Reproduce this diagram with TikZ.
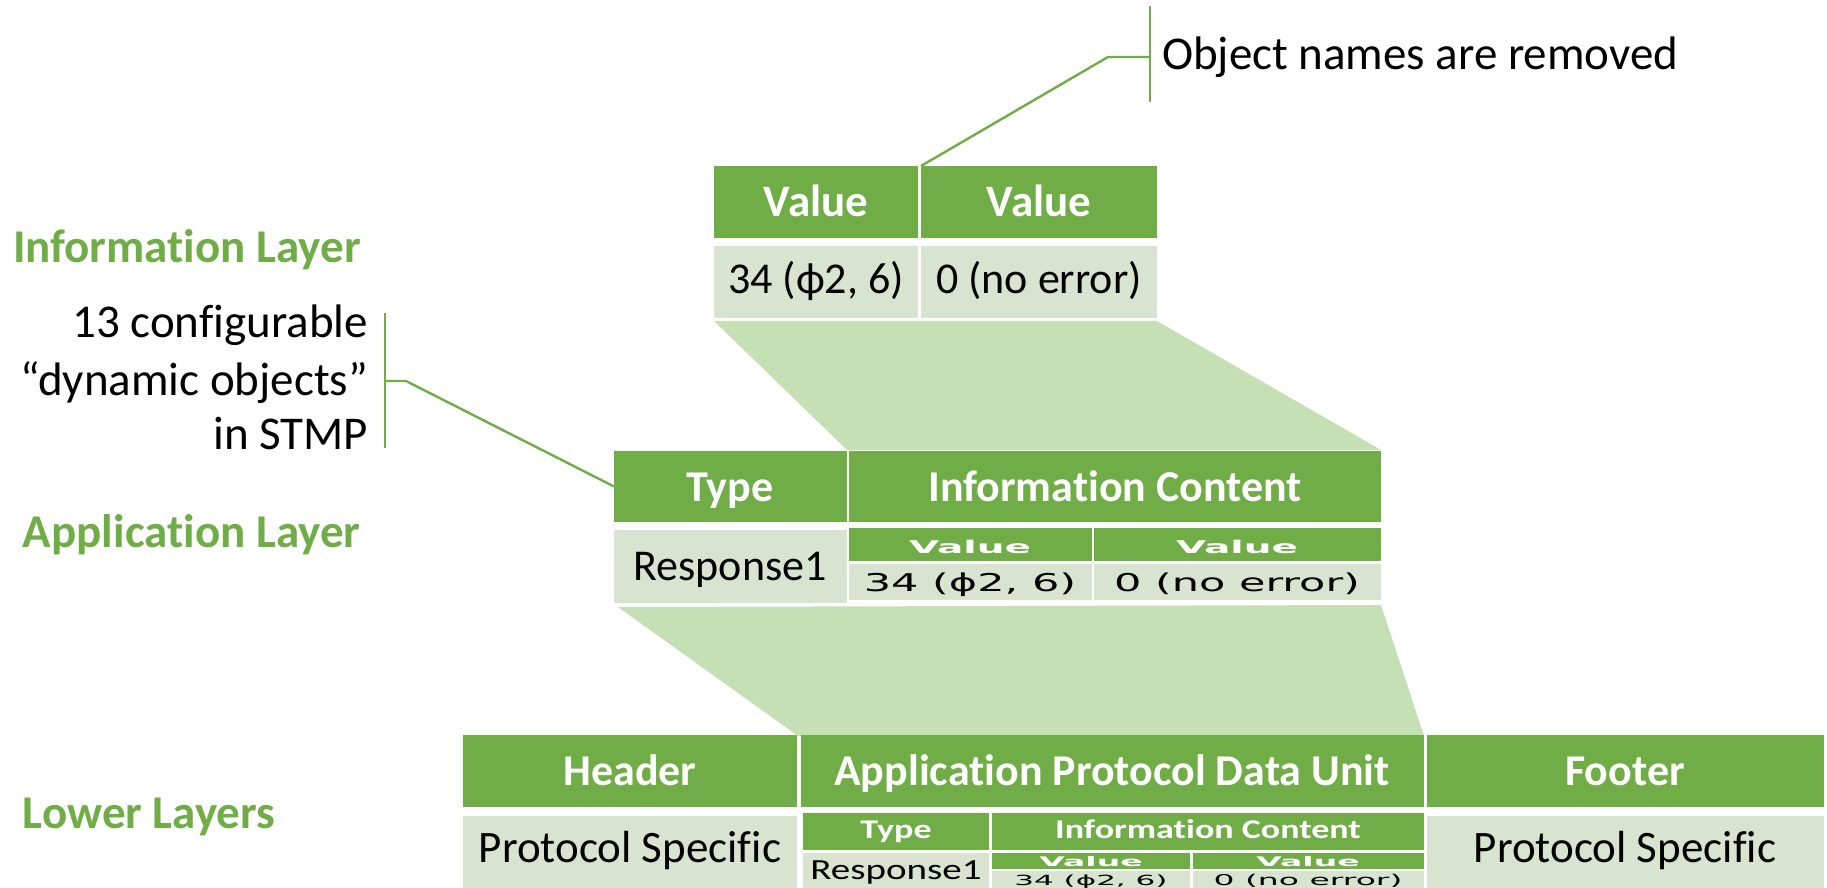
\documentclass[tikz,border=0pt]{standalone}
\usepackage{fontspec}
\usepackage{graphicx}
\setmainfont{Carlito}[Ligatures=NoCommon]
\newfontfamily\verd{DejaVu Sans}
\usetikzlibrary{fit}

\definecolor{accent}{HTML}{70AD47}
\definecolor{bodycell}{HTML}{D8E3D0}
\definecolor{funnel}{HTML}{C5E0B4}

% font size in picture units (1 unit = 1pt)
\newcommand\fsz[1]{\fontsize{#1}{#1}\selectfont}
% flattened Verdana-like text: vertical factor, size, text
\newcommand\squashv[3]{\scalebox{1}[#1]{\verd\fsz{#2}#3}}
% flattened Calibri-like text
\newcommand\squashc[3]{\scalebox{1}[#1]{\fsz{#2}#3}}

\tikzset{
  hcell/.style={fill=accent, draw=none, inner sep=0pt, outer sep=0pt},
  bcell/.style={fill=bodycell, draw=none, inner sep=0pt, outer sep=0pt},
  txt/.style={inner sep=0pt, outer sep=0pt, anchor=base},
  htxt/.style={txt, text=white, font=\bfseries},
  layer/.style={inner sep=0pt, outer sep=0pt, anchor=base west, text=accent, font=\fsz{47}\bfseries},
  note/.style={inner sep=0pt, outer sep=0pt, font=\fsz{47}},
  callout/.style={draw=accent, line width=2.4pt},
}

\begin{document}
\begin{tikzpicture}[x=1pt, y=-1pt]
\fill[white] (0,0) rectangle (1827,888);
\useasboundingbox (0,0) rectangle (1827,888);

% funnels between the layers
\fill[funnel] (714,321) -- (1157,321) -- (1381,450) -- (847,450) -- cycle;
\fill[funnel] (618,607) -- (1381,605) -- (1424,736) -- (798,736) -- cycle;

% ---------- information layer table ----------
\node[hcell, fit={(714,166) (918,238)}] (iH1) {};
\node[hcell, fit={(921,166) (1157,238)}] (iH2) {};
\node[bcell, fit={(714,246) (918,318)}] (iD1) {};
\node[bcell, fit={(921,246) (1157,318)}] (iD2) {};
\node[htxt, font=\fsz{45}\bfseries] (iH1t) at (816,216) {Value};
\node[htxt, font=\fsz{45}\bfseries] (iH2t) at (1039,216) {Value};
\node[txt, font=\fsz{44}] (iD1t) at (816,293) {34 (ϕ2, 6)};
\node[txt, font=\fsz{44}] (iD2t) at (1039,293) {0 (no error)};

% ---------- application layer table ----------
\node[hcell, fit={(614,451) (847,522)}] (aType) {};
\node[hcell, fit={(849,451) (1381,522)}] (aInfo) {};
\node[bcell, fit={(614,530) (847,603)}] (aResp) {};
\node[hcell, fit={(849,528) (1092,561)}] (aV1) {};
\node[hcell, fit={(1094,528) (1381,561)}] (aV2) {};
\node[bcell, fit={(849,564) (1092,600)}] (aD1) {};
\node[bcell, fit={(1094,564) (1381,600)}] (aD2) {};
\node[htxt, font=\fsz{44}\bfseries] (aTypet) at (730,501) {Type};
\node[htxt, font=\fsz{44}\bfseries] (aInfot) at (1115,501) {Information Content};
\node[txt, font=\fsz{44}] (aRespt) at (730,580) {Response1};
\node[txt, text=white] (aV1t) at (970,553) {\squashv{0.45}{39}{\bfseries Value}};
\node[txt, text=white] (aV2t) at (1237,553) {\squashv{0.45}{39}{\bfseries Value}};
\node[txt] (aD1t) at (970,591) {\squashv{0.57}{43}{34 (ϕ2, 6)}};
\node[txt] (aD2t) at (1237,591) {\squashv{0.57}{43}{0 (no error)}};

% ---------- lower layers table ----------
\node[hcell, fit={(463,735) (797,807)}] (lHead) {};
\node[hcell, fit={(801,735) (1424,807)}] (lApdu) {};
\node[hcell, fit={(1427,735) (1824,807)}] (lFoot) {};
\node[bcell, fit={(463,816) (797,888)}] (lPs1) {};
\node[bcell, fit={(1427,816) (1824,888)}] (lPs2) {};
\node[hcell, fit={(803,813) (989,850)}] (lType) {};
\node[hcell, fit={(992,813) (1424,850)}] (lInfo) {};
\node[bcell, fit={(803,853) (989,888)}] (lResp) {};
\node[hcell, fit={(992,853) (1190,869)}] (lV1) {};
\node[hcell, fit={(1193,853) (1424,869)}] (lV2) {};
\node[bcell, fit={(992,871) (1190,888)}] (lD1) {};
\node[bcell, fit={(1193,871) (1424,888)}] (lD2) {};
\node[htxt, font=\fsz{44}\bfseries] (lHeadt) at (630,785) {Header};
\node[htxt, font=\fsz{44}\bfseries] (lApdut) at (1112,785) {Application Protocol Data Unit};
\node[htxt, font=\fsz{44}\bfseries] (lFoott) at (1625,785) {Footer};
\node[txt, font=\fsz{45}] (lPs1t) at (630,862) {Protocol Specific};
\node[txt, font=\fsz{45}] (lPs2t) at (1625,862) {Protocol Specific};
\node[txt, text=white] (lTypet) at (896,838) {\squashc{0.75}{36}{\bfseries Type}};
\node[txt, text=white] (lInfot) at (1208,838) {\squashc{0.75}{36}{\bfseries Information Content}};
\node[txt] (lRespt) at (896,879) {\squashc{0.75}{39}{Response1}};
\node[txt, text=white] (lV1t) at (1091,866) {\squashv{0.4}{33}{\bfseries Value}};
\node[txt, text=white] (lV2t) at (1308,866) {\squashv{0.4}{33}{\bfseries Value}};
\node[txt] (lD1t) at (1091,885) {\squashv{0.45}{31}{34 (ϕ2, 6)}};
\node[txt] (lD2t) at (1308,885) {\squashv{0.45}{33}{0 (no error)}};

% ---------- layer names ----------
\node[layer] (infoLayer) at (13,262) {Information Layer};
\node[layer] (appLayer) at (23,547) {Application Layer};
\node[layer] (lowLayer) at (23,828) {Lower Layers};

% ---------- callouts ----------
\node[note, anchor=base west] (objNote) at (1162,70) {Object names are removed};
\coordinate (objTop) at (1150,6);
\coordinate (objBot) at (1150,102);
\coordinate (objMid) at (1150,57);
\coordinate (objTick) at (1108,57);
\coordinate (infoDiv) at (921,166);
\draw[callout] (objTop) -- (objBot);
\draw[callout] (objMid) -- (objTick) -- (infoDiv);

\node[note, anchor=base east] (cfg1) at (368,337) {13 configurable};
\node[note, anchor=base east] (cfg2) at (368,395) {“dynamic objects”};
\node[note, anchor=base east] (cfg3) at (368,449) {in STMP};
\coordinate (cfgTop) at (385,313);
\coordinate (cfgBot) at (385,448);
\coordinate (cfgMid) at (385,381);
\coordinate (cfgTick) at (406,381);
\draw[callout] (cfgTop) -- (cfgBot);
\draw[callout] (cfgMid) -- (cfgTick) -- (aType.west);
\end{tikzpicture}
\end{document}
